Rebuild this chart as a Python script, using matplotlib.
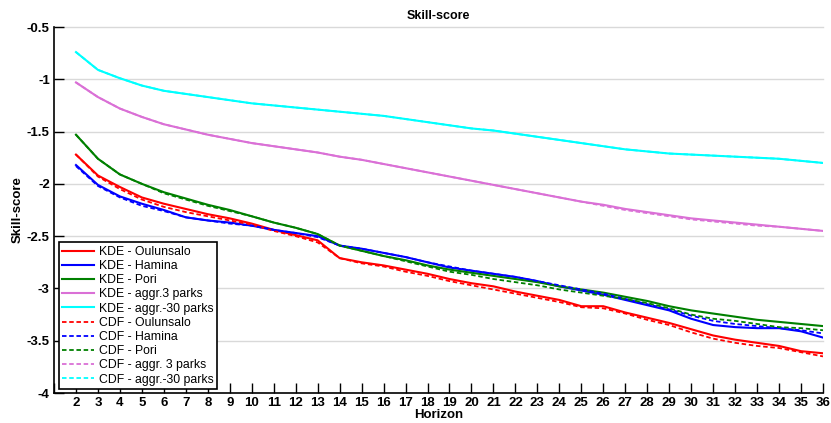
import matplotlib
matplotlib.use("Agg")
import matplotlib.pyplot as plt
import numpy as np

horizon = list(range(2, 37))

kde_oulunsalo = [-1.72, -1.92, -2.03, -2.13, -2.19, -2.24, -2.29, -2.33, -2.38, -2.44, -2.49, -2.54,
                 -2.71, -2.75, -2.78, -2.82, -2.86, -2.91, -2.95, -2.98, -3.03, -3.07, -3.11, -3.17,
                 -3.17, -3.23, -3.28, -3.33, -3.39, -3.45, -3.49, -3.52, -3.55, -3.60, -3.62]
kde_hamina = [-1.82, -2.01, -2.12, -2.19, -2.25, -2.32, -2.35, -2.37, -2.40, -2.44, -2.47, -2.50,
              -2.59, -2.62, -2.66, -2.70, -2.75, -2.80, -2.83, -2.86, -2.89, -2.93, -2.98, -3.02,
              -3.06, -3.11, -3.16, -3.21, -3.29, -3.35, -3.37, -3.38, -3.38, -3.41, -3.47]
kde_pori = [-1.53, -1.76, -1.91, -2.00, -2.08, -2.14, -2.20, -2.25, -2.31, -2.37, -2.42, -2.48,
            -2.59, -2.64, -2.69, -2.73, -2.78, -2.82, -2.85, -2.88, -2.91, -2.94, -2.98, -3.01,
            -3.04, -3.08, -3.12, -3.17, -3.21, -3.24, -3.27, -3.30, -3.32, -3.34, -3.36]
kde_aggr3 = [-1.03, -1.17, -1.28, -1.36, -1.43, -1.48, -1.53, -1.57, -1.61, -1.64, -1.67, -1.70,
             -1.74, -1.77, -1.81, -1.85, -1.89, -1.93, -1.97, -2.01, -2.05, -2.09, -2.13, -2.17,
             -2.20, -2.24, -2.27, -2.30, -2.33, -2.35, -2.37, -2.39, -2.41, -2.43, -2.45]
kde_aggr30 = [-0.74, -0.91, -0.99, -1.06, -1.11, -1.14, -1.17, -1.20, -1.23, -1.25, -1.27, -1.29,
              -1.31, -1.33, -1.35, -1.38, -1.41, -1.44, -1.47, -1.49, -1.52, -1.55, -1.58, -1.61,
              -1.64, -1.67, -1.69, -1.71, -1.72, -1.73, -1.74, -1.75, -1.76, -1.78, -1.80]

cdf_oulunsalo = [-1.72, -1.93, -2.05, -2.15, -2.22, -2.27, -2.31, -2.35, -2.39, -2.45, -2.50, -2.56,
                 -2.71, -2.76, -2.79, -2.84, -2.88, -2.93, -2.97, -3.01, -3.05, -3.09, -3.13, -3.18,
                 -3.19, -3.24, -3.30, -3.35, -3.42, -3.48, -3.52, -3.55, -3.57, -3.61, -3.65]
cdf_hamina = [-1.83, -2.02, -2.13, -2.21, -2.26, -2.32, -2.35, -2.38, -2.40, -2.44, -2.47, -2.51,
              -2.59, -2.62, -2.66, -2.70, -2.75, -2.79, -2.83, -2.86, -2.89, -2.93, -2.97, -3.01,
              -3.05, -3.10, -3.15, -3.20, -3.26, -3.31, -3.34, -3.36, -3.38, -3.40, -3.43]
cdf_pori = [-1.53, -1.76, -1.91, -2.00, -2.09, -2.15, -2.21, -2.26, -2.31, -2.37, -2.42, -2.48,
            -2.59, -2.64, -2.69, -2.74, -2.79, -2.84, -2.87, -2.91, -2.94, -2.97, -3.01, -3.04,
            -3.07, -3.10, -3.14, -3.19, -3.25, -3.29, -3.31, -3.34, -3.37, -3.38, -3.40]
cdf_aggr3 = [-1.03, -1.17, -1.28, -1.36, -1.43, -1.48, -1.53, -1.57, -1.61, -1.64, -1.67, -1.70,
             -1.74, -1.77, -1.81, -1.85, -1.89, -1.93, -1.97, -2.01, -2.05, -2.09, -2.13, -2.17,
             -2.21, -2.25, -2.28, -2.31, -2.34, -2.36, -2.38, -2.40, -2.41, -2.43, -2.45]
cdf_aggr30 = [-0.74, -0.91, -0.99, -1.06, -1.11, -1.14, -1.17, -1.20, -1.23, -1.25, -1.27, -1.29,
              -1.31, -1.33, -1.35, -1.38, -1.41, -1.44, -1.47, -1.49, -1.52, -1.55, -1.58, -1.61,
              -1.64, -1.67, -1.69, -1.71, -1.72, -1.73, -1.74, -1.75, -1.76, -1.78, -1.80]

labels = ["KDE - Oulunsalo", "KDE - Hamina", "KDE - Pori", "KDE - aggr.3 parks", "KDE - aggr.-30 parks",
          "CDF - Oulunsalo", "CDF - Hamina", "CDF - Pori", "CDF - aggr. 3 parks", "CDF - aggr.-30 parks"]
colors = ["#ff0000", "#0000ff", "#008000", "#da70d6", "#00ffff"]
yticks = [-4, -3.5, -3, -2.5, -2, -1.5, -1, -0.5]
ytick_labels = ["-4", "-3.5", "-3", "-2.5", "-2", "-1.5", "-1", "-0.5"]

plt.rcParams['font.family'] = ['Liberation Sans', 'DejaVu Sans']
plt.rcParams['font.weight'] = 'bold'

fig = plt.figure(figsize=(8.31, 4.23), dpi=100)
ax = fig.add_axes([54/831, 1-393/423, (823-54)/831, (393-27)/423])

for yv in yticks[1:]:
    ax.axhline(yv, color='#d9d9d9', lw=1, zorder=0, clip_on=False)

kde = [kde_oulunsalo, kde_hamina, kde_pori, kde_aggr3, kde_aggr30]
cdf = [cdf_oulunsalo, cdf_hamina, cdf_pori, cdf_aggr3, cdf_aggr30]
for i, s in enumerate(kde):
    ax.plot(horizon, s, color=colors[i], lw=1.5, label=labels[i])
for i, s in enumerate(cdf):
    ax.plot(horizon, s, color=colors[i], lw=1.3, ls=(0, (2.5, 1.5)), label=labels[5+i])

ax.set_xlim(1, 36)
ax.set_ylim(-4, -0.5)
ax.set_xticks(range(1, 37))
ax.set_xticklabels([""] + [str(h) for h in horizon])
ax.set_yticks(yticks)
ax.set_yticklabels(ytick_labels)
ax.tick_params(direction='in', length=7, width=1, labelsize=9.5, pad=3)
for lab in ax.get_xticklabels() + ax.get_yticklabels():
    lab.set_fontweight('bold')
ax.spines['top'].set_visible(False)
ax.spines['right'].set_visible(False)
ax.spines['left'].set_linewidth(1.2)
ax.spines['bottom'].set_linewidth(1.2)

ax.set_title("Skill-score", fontsize=9, fontweight='bold', pad=6)
ax.set_xlabel("Horizon", fontsize=9.5, fontweight='bold', labelpad=0)
ax.set_ylabel("Skill-score", fontsize=9.5, fontweight='bold', labelpad=2)

leg = ax.legend(loc='lower left', bbox_to_anchor=(0.006, 0.01), fontsize=8.8, frameon=True,
                fancybox=False, edgecolor='black', framealpha=1, borderpad=0.3,
                labelspacing=0.18, handlelength=2.6, handletextpad=0.4, borderaxespad=0)
leg.get_frame().set_linewidth(1.2)
for t in leg.get_texts():
    t.set_fontweight('normal')

fig.savefig("out.png", dpi=100)
